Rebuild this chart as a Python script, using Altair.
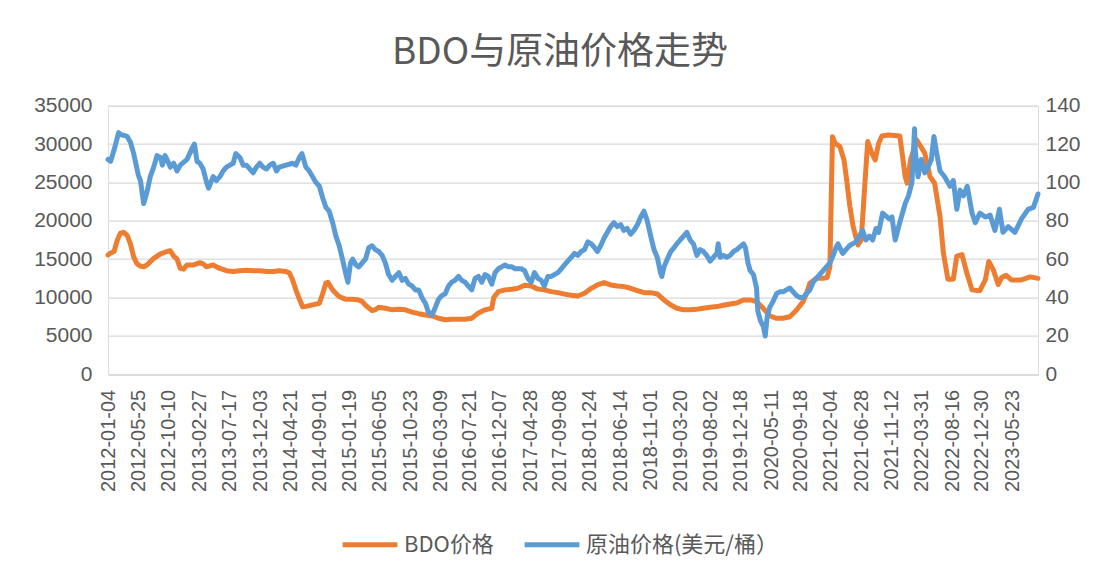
import altair as alt
import pandas as pd

# ---------------- data ----------------
oil_dates = [
    "2012-01-04", "2012-01-16", "2012-02-01", "2012-02-22", "2012-03-01", "2012-04-01", "2012-04-16",
    "2012-05-01", "2012-05-22", "2012-06-01", "2012-06-16", "2012-07-01", "2012-07-16", "2012-08-01",
    "2012-08-16", "2012-09-01", "2012-09-10", "2012-09-22", "2012-10-01", "2012-10-16", "2012-11-01",
    "2012-11-16", "2012-12-01", "2013-01-01", "2013-01-25", "2013-02-04", "2013-02-16", "2013-03-01",
    "2013-03-16", "2013-04-01", "2013-04-10", "2013-05-01", "2013-05-16", "2013-06-01", "2013-06-16",
    "2013-07-01", "2013-08-01", "2013-08-13", "2013-09-01", "2013-09-16", "2013-10-01", "2013-11-01",
    "2013-11-16", "2013-12-01", "2013-12-16", "2014-01-01", "2014-01-16", "2014-02-01", "2014-02-16",
    "2014-03-01", "2014-04-01", "2014-05-01", "2014-05-16", "2014-06-01", "2014-06-13", "2014-07-01",
    "2014-07-16", "2014-08-01", "2014-08-16", "2014-09-01", "2014-09-16", "2014-10-01", "2014-10-16",
    "2014-11-01", "2014-11-16", "2014-12-01", "2014-12-16", "2015-01-01", "2015-01-10", "2015-01-22",
    "2015-02-01", "2015-02-16", "2015-03-01", "2015-03-16", "2015-04-01", "2015-04-16", "2015-05-01",
    "2015-05-16", "2015-06-01", "2015-06-16", "2015-07-01", "2015-07-16", "2015-08-01", "2015-08-16",
    "2015-09-01", "2015-09-16", "2015-10-01", "2015-10-16", "2015-11-01", "2015-11-16", "2015-12-01",
    "2015-12-16", "2016-01-01", "2016-01-16", "2016-02-01", "2016-02-16", "2016-03-01", "2016-03-16",
    "2016-04-01", "2016-04-16", "2016-05-01", "2016-05-16", "2016-06-01", "2016-06-16", "2016-07-01",
    "2016-07-16", "2016-08-01", "2016-08-16", "2016-09-01", "2016-09-16", "2016-10-01", "2016-10-16",
    "2016-11-01", "2016-11-16", "2016-12-01", "2016-12-16", "2017-01-01", "2017-01-16", "2017-02-01",
    "2017-02-16", "2017-03-01", "2017-03-16", "2017-04-01", "2017-04-16", "2017-05-01", "2017-05-16",
    "2017-06-01", "2017-06-16", "2017-07-01", "2017-07-16", "2017-08-01", "2017-08-16", "2017-09-01",
    "2017-09-16", "2017-10-01", "2017-10-16", "2017-11-01", "2017-11-16", "2017-12-01", "2017-12-16",
    "2018-01-01", "2018-01-16", "2018-02-01", "2018-02-16", "2018-03-01", "2018-03-16", "2018-04-01",
    "2018-04-16", "2018-05-01", "2018-05-16", "2018-06-01", "2018-06-16", "2018-07-01", "2018-07-16",
    "2018-08-01", "2018-08-16", "2018-09-01", "2018-09-16", "2018-10-01", "2018-10-16", "2018-11-01",
    "2018-11-16", "2018-12-01", "2018-12-16", "2018-12-22", "2019-01-01", "2019-01-16", "2019-02-01",
    "2019-02-16", "2019-03-01", "2019-03-16", "2019-04-01", "2019-04-16", "2019-05-01", "2019-05-16",
    "2019-06-01", "2019-06-16", "2019-07-01", "2019-07-16", "2019-08-01", "2019-08-16", "2019-09-01",
    "2019-09-07", "2019-09-16", "2019-10-01", "2019-10-16", "2019-11-01", "2019-11-16", "2019-12-01",
    "2020-01-01", "2020-01-10", "2020-01-22", "2020-02-01", "2020-02-16", "2020-03-01", "2020-03-07",
    "2020-03-19", "2020-04-01", "2020-04-10", "2020-04-19", "2020-05-01", "2020-05-16", "2020-06-01",
    "2020-06-16", "2020-07-01", "2020-07-16", "2020-08-01", "2020-08-16", "2020-09-01", "2020-09-16",
    "2020-10-01", "2020-10-16", "2020-11-01", "2020-11-16", "2020-12-01", "2020-12-16", "2021-01-01",
    "2021-01-16", "2021-02-01", "2021-02-16", "2021-03-01", "2021-03-10", "2021-04-01", "2021-04-16",
    "2021-05-01", "2021-05-16", "2021-06-01", "2021-06-16", "2021-07-01", "2021-07-16", "2021-08-01",
    "2021-08-16", "2021-09-01", "2021-09-13", "2021-10-01", "2021-11-01", "2021-11-13", "2021-11-28",
    "2021-12-19", "2022-01-13", "2022-01-28", "2022-02-13", "2022-02-25", "2022-02-28", "2022-03-13",
    "2022-03-28", "2022-04-13", "2022-04-28", "2022-05-13", "2022-05-25", "2022-06-07", "2022-06-22",
    "2022-07-13", "2022-08-07", "2022-08-22", "2022-09-07", "2022-09-22", "2022-10-07", "2022-10-25",
    "2022-11-16", "2022-12-01", "2022-12-22", "2023-01-16", "2023-02-07", "2023-03-01", "2023-03-22",
    "2023-04-07", "2023-05-01", "2023-06-01", "2023-07-01", "2023-08-01", "2023-08-25", "2023-09-15",
]
oil_values = [
    112, 111, 117, 126, 125, 124, 121,
    115, 104, 101, 89, 95, 103, 108,
    114, 113, 109, 114, 112, 108, 110,
    106, 109, 112, 118, 120, 111, 110,
    107, 100, 97, 103, 101, 103, 106,
    108, 110, 115, 113, 109, 109, 105,
    108, 110, 108, 107, 109, 110, 106,
    108, 109, 110, 109, 113, 115, 108,
    106, 103, 100, 98, 92, 87, 85,
    79, 72, 67, 60, 52, 48, 58,
    60, 57, 56, 58, 60, 66, 67,
    65, 64, 62, 58, 52, 49, 51,
    53, 49, 50, 47, 46, 44, 44,
    40, 37, 32, 31, 35, 39, 41,
    42, 46, 48, 49, 51, 49, 48,
    46, 44, 50, 51, 48, 52, 51,
    47, 53, 55, 56, 57, 56, 56,
    55, 55, 55, 54, 50, 48, 53,
    50, 49, 46, 51, 51, 52, 53,
    55, 57, 59, 61, 63, 62, 64,
    65, 69, 68, 66, 64, 67, 71,
    74, 77, 79, 77, 78, 75, 76,
    73, 75, 78, 82, 85, 80, 72,
    65, 61, 53, 51, 56, 60, 64,
    66, 68, 70, 72, 74, 70, 68,
    62, 65, 64, 62, 59, 61, 63,
    68, 61, 62, 61, 62, 64, 65,
    68, 66, 58, 54, 52, 45, 33,
    28, 25, 20, 30, 35, 38, 42,
    43, 43, 44, 45, 43, 41, 40,
    40, 42, 44, 48, 50, 52, 54,
    56, 58, 62, 66, 68, 63, 65,
    67, 68, 69, 72, 75, 70, 72,
    70, 76, 74, 84, 81, 82, 70,
    79, 89, 93, 100, 128, 117, 103,
    112, 105, 108, 112, 124, 115, 106,
    103, 98, 101, 86, 96, 93, 98,
    84, 79, 84, 82, 83, 75, 86,
    74, 77, 74, 81, 86, 87, 94,
]

bdo_dates = [
    "2012-01-04", "2012-01-16", "2012-02-01", "2012-02-16", "2012-03-01", "2012-03-16", "2012-04-01",
    "2012-04-16", "2012-05-01", "2012-05-16", "2012-06-01", "2012-06-16", "2012-07-01", "2012-08-01",
    "2012-09-01", "2012-10-01", "2012-10-16", "2012-11-01", "2012-11-16", "2012-12-01", "2012-12-16",
    "2013-01-01", "2013-02-01", "2013-03-01", "2013-03-16", "2013-04-01", "2013-05-01", "2013-05-16",
    "2013-06-01", "2013-07-01", "2013-08-01", "2013-09-01", "2013-10-01", "2013-11-01", "2013-12-01",
    "2014-01-01", "2014-02-01", "2014-03-01", "2014-04-01", "2014-04-16", "2014-05-01", "2014-05-16",
    "2014-06-01", "2014-06-16", "2014-07-01", "2014-08-01", "2014-09-01", "2014-09-16", "2014-10-01",
    "2014-10-10", "2014-11-01", "2014-12-01", "2015-01-01", "2015-02-01", "2015-03-01", "2015-03-16",
    "2015-04-01", "2015-05-01", "2015-05-16", "2015-06-01", "2015-07-01", "2015-08-01", "2015-09-01",
    "2015-10-01", "2015-11-01", "2015-12-01", "2016-01-01", "2016-02-01", "2016-03-01", "2016-04-01",
    "2016-05-01", "2016-06-01", "2016-07-01", "2016-08-01", "2016-09-01", "2016-10-01", "2016-11-01",
    "2016-11-10", "2016-12-01", "2017-01-01", "2017-02-01", "2017-03-01", "2017-04-01", "2017-05-01",
    "2017-06-01", "2017-07-01", "2017-08-01", "2017-09-01", "2017-10-01", "2017-11-01", "2017-12-01",
    "2018-01-01", "2018-02-01", "2018-03-01", "2018-04-01", "2018-05-01", "2018-06-01", "2018-07-01",
    "2018-08-01", "2018-09-01", "2018-10-01", "2018-11-01", "2018-12-01", "2019-01-01", "2019-02-01",
    "2019-03-01", "2019-04-01", "2019-05-01", "2019-06-01", "2019-07-01", "2019-08-01", "2019-09-01",
    "2019-10-01", "2019-11-01", "2019-12-01", "2020-01-01", "2020-02-01", "2020-03-01", "2020-04-01",
    "2020-05-01", "2020-06-01", "2020-07-01", "2020-08-01", "2020-09-01", "2020-10-01", "2020-10-16",
    "2020-11-01", "2020-12-01", "2021-01-01", "2021-01-19", "2021-02-01", "2021-02-13", "2021-02-25",
    "2021-03-19", "2021-04-07", "2021-04-19", "2021-05-04", "2021-05-19", "2021-06-10", "2021-06-25",
    "2021-07-07", "2021-07-19", "2021-07-25", "2021-08-13", "2021-08-28", "2021-09-13", "2021-09-28",
    "2021-10-28", "2021-12-19", "2021-12-28", "2022-01-13", "2022-01-22", "2022-02-07", "2022-03-07",
    "2022-04-13", "2022-05-07", "2022-05-28", "2022-06-22", "2022-07-07", "2022-07-28", "2022-08-22",
    "2022-09-07", "2022-10-01", "2022-10-22", "2022-11-16", "2022-12-22", "2023-01-16", "2023-02-01",
    "2023-02-22", "2023-03-16", "2023-04-01", "2023-04-22", "2023-05-16", "2023-07-01", "2023-08-10",
    "2023-09-15",
]
bdo_values = [
    15550, 15800, 16000, 17500, 18400, 18500, 18100,
    17000, 15300, 14400, 14100, 14000, 14250, 15100,
    15700, 16000, 16100, 15400, 15000, 13800, 13700,
    14250, 14250, 14550, 14400, 14000, 14250, 14000,
    13800, 13500, 13400, 13500, 13550, 13500, 13500,
    13400, 13400, 13500, 13400, 13200, 12300, 11000,
    9800, 8800, 8850, 9050, 9250, 10500, 11900,
    12000, 10990, 10120, 9770, 9770, 9690, 9500,
    9000, 8300, 8400, 8730, 8600, 8400, 8470,
    8400, 8100, 7900, 7730, 7600, 7300, 7100,
    7170, 7170, 7170, 7300, 8000, 8400, 8600,
    10000, 10770, 11000, 11080, 11210, 11600, 11500,
    11100, 11000, 10770, 10640, 10450, 10300, 10200,
    10560, 11200, 11640, 11950, 11640, 11500, 11430,
    11210, 10900, 10640, 10640, 10470, 9690, 9035,
    8600, 8400, 8400, 8470, 8600, 8730, 8820,
    9000, 9170, 9300, 9690, 9690, 9470, 8600,
    7600, 7300, 7300, 7500, 8385, 9470, 10500,
    11860, 12500, 12510, 12600, 14000, 30970, 30100,
    29670, 27930, 25330, 21850, 19240, 16850, 17500,
    22720, 27930, 30320, 28800, 27930, 30100, 31060,
    31190, 31060, 29230, 25760, 24900, 28000, 30530,
    28800, 25760, 24900, 20550, 15900, 12400, 12400,
    15400, 15600, 13300, 11000, 10900, 12300, 14700,
    13600, 11700, 12600, 12900, 12300, 12300, 12700,
    12500,
]

series_names = ["BDO价格", "原油价格(美元/桶）"]
series_colors = ["#ED7D31", "#5B9BD5"]

left_ticks = [0, 5000, 10000, 15000, 20000, 25000, 30000, 35000]
right_ticks = [0, 20, 40, 60, 80, 100, 120, 140]
x_labels = [
    "2012-01-04", "2012-05-25", "2012-10-10", "2013-02-27", "2013-07-17", "2013-12-03",
    "2014-04-21", "2014-09-01", "2015-01-19", "2015-06-05", "2015-10-23", "2016-03-09",
    "2016-07-21", "2016-12-07", "2017-04-28", "2017-09-08", "2018-01-24", "2018-06-14",
    "2018-11-01", "2019-03-20", "2019-08-02", "2019-12-18", "2020-05-11", "2020-09-18",
    "2021-02-04", "2021-06-28", "2021-11-12", "2022-03-31", "2022-08-16", "2022-12-30",
    "2023-05-23",
]
x_start, x_end = "2012-01-04", "2023-09-15"


def dt(s):
    y, m, d = (int(v) for v in s.split("-"))
    return alt.DateTime(year=y, month=m, date=d, utc=True)


bdo_df = pd.DataFrame({"date": bdo_dates, "value": bdo_values, "series": series_names[0]})
oil_df = pd.DataFrame({"date": oil_dates, "value": oil_values, "series": series_names[1]})

GREY = "#595959"
GRID = "#D9D9D9"
FONT = "Noto Sans CJK SC"

x_enc = alt.X(
    "date:T",
    scale=alt.Scale(type="utc", domain=[dt(x_start), dt(x_end)]),
    axis=alt.Axis(
        values=[dt(s) for s in x_labels],
        format="%Y-%m-%d",
        labelAngle=270,
        labelFontSize=20,
        labelFont="Liberation Sans",
        labelColor=GREY,
        labelPadding=15,
        labelOverlap=False,
        labelFlush=False,
        ticks=False,
        grid=False,
        domainColor=GRID,
        domainWidth=1.2,
        title=None,
    ),
)

color_enc = alt.Color(
    "series:N",
    scale=alt.Scale(domain=series_names, range=series_colors),
    legend=alt.Legend(
        orient="none",
        legendX=232,
        legendY=409,
        direction="horizontal",
        title=None,
        symbolType="stroke",
        symbolSize=3000,
        symbolStrokeWidth=5,
        labelFontSize=22,
        labelFont=FONT,
        labelColor=GREY,
        labelOffset=4,
        labelLimit=400,
        columnPadding=20,
    ),
)

bdo_line = alt.Chart(bdo_df).mark_line(strokeWidth=5, strokeJoin="round", strokeCap="round").encode(
    x=x_enc,
    y=alt.Y(
        "value:Q",
        scale=alt.Scale(domain=[0, 35000], nice=False, zero=True),
        axis=alt.Axis(
            values=left_ticks,
            format="d",
            labelFontSize=21,
            labelFont="Liberation Sans",
            labelColor=GREY,
            labelPadding=16,
            ticks=False,
            domain=False,
            grid=True,
            gridColor=GRID,
            gridWidth=1.2,
            title=None,
        ),
    ),
    color=color_enc,
)

oil_line = alt.Chart(oil_df).mark_line(strokeWidth=5, strokeJoin="round", strokeCap="round").encode(
    x=x_enc,
    y=alt.Y(
        "value:Q",
        scale=alt.Scale(domain=[0, 140], nice=False, zero=True),
        axis=alt.Axis(
            orient="right",
            values=right_ticks,
            labelFontSize=21,
            labelFont="Liberation Sans",
            labelColor=GREY,
            labelPadding=7,
            ticks=False,
            domain=False,
            grid=False,
            title=None,
        ),
    ),
    color=color_enc,
)

chart = (
    alt.layer(bdo_line, oil_line)
    .resolve_scale(y="independent")
    .properties(
        width=930,
        height=268.6,
        autosize=alt.AutoSizeParams(type="none"),
        padding={"left": 100, "top": 97.7, "right": 60, "bottom": 200},
        title=alt.TitleParams(
            "BDO与原油价格走势",
            fontSize=37,
            font=FONT,
            fontWeight="normal",
            color=GREY,
            anchor="middle",
            frame="group",
            dx=-13,
            offset=23,
        ),
    )
    .configure_view(stroke=None)
    .configure(background="white")
)

chart.save("out.html", embed_options={"renderer": "svg", "actions": False})
